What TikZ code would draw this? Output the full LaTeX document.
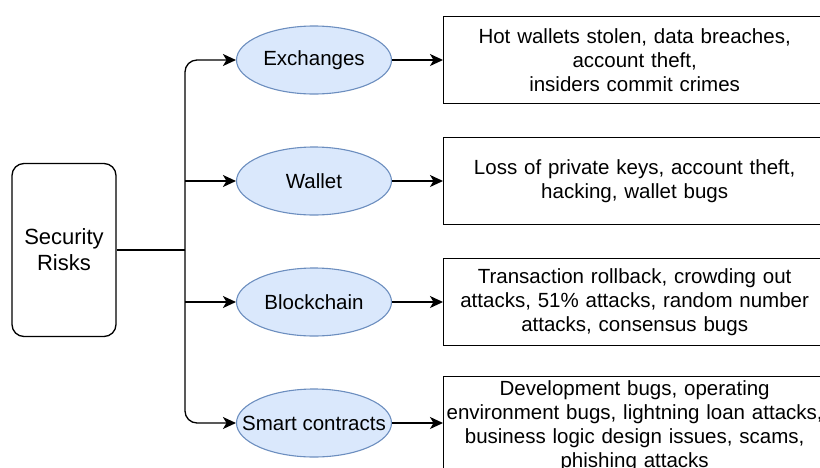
\documentclass[tikz,border=0pt]{standalone}
\usepackage{fontspec}
\setmainfont{Liberation Sans}
\usetikzlibrary{shapes.geometric, arrows.meta, positioning, calc}
\definecolor{areafill}{HTML}{DAE8FC}
\definecolor{areadraw}{HTML}{6C8EBF}

\begin{document}
\begin{tikzpicture}[x=1pt, y=-1pt,
  every node/.style={font=\fontsize{20.5}{24}\selectfont},
  riskbox/.style={draw, line width=1.3pt, rounded corners=12pt, minimum width=104pt, minimum height=173pt, align=center, font=\fontsize{22}{26}\selectfont},
  area/.style={ellipse, draw=areadraw, fill=areafill, line width=1.1pt, minimum width=155pt, minimum height=68pt, inner sep=0pt},
  detail/.style={draw, line width=1.3pt, text width=382pt, align=center, minimum height=87pt, inner xsep=0pt, inner ysep=4pt},
  link/.style={line width=1.3pt},
  arr/.style={link, -{Stealth[length=13pt, width=12pt, inset=3.5pt]}}
]
  \useasboundingbox (0,0) rectangle (820,467);
  \clip (0,0) rectangle (820,467);

  \node[riskbox] (risks) at (64,250) {Security\\Risks};

  \node[area] (exch) at (314,60) {\makebox[0pt]{Exchanges}};
  \node[area] (wallet) at (314,181) {\makebox[0pt]{Wallet}};
  \node[area] (chain) at (314,302) {\makebox[0pt]{Blockchain}};
  \node[area] (smart) at (314,423) {\makebox[0pt]{Smart contracts}};

  \node[detail, anchor=west] (exchtxt) at (443,60) {Hot wallets stolen, data breaches,\\account theft,\\insiders commit crimes};
  \node[detail, anchor=west] (wallettxt) at (443,181) {Loss of private keys, account theft,\\hacking, wallet bugs};
  \node[detail, anchor=west] (chaintxt) at (443,302) {Transaction rollback, crowding out\\attacks, 51\% attacks, random number\\attacks, consensus bugs};
  \node[detail, anchor=north west] (smarttxt) at (443,376) {Development bugs, operating\\environment bugs, lightning loan attacks,\\business logic design issues, scams,\\phishing attacks};

  % trunk
  \coordinate (hub) at (185,250);
  \draw[link] (risks.east) -- (hub);
  \draw[arr, rounded corners=12pt] (hub) |- (exch.west);
  \draw[arr, rounded corners=12pt] (hub) |- (smart.west);
  \draw[arr] (hub |- wallet.west) -- (wallet.west);
  \draw[arr] (hub |- chain.west) -- (chain.west);

  % to the details
  \draw[arr] (exch.east) -- (exchtxt.west |- exch.east);
  \draw[arr] (wallet.east) -- (wallettxt.west |- wallet.east);
  \draw[arr] (chain.east) -- (chaintxt.west |- chain.east);
  \draw[arr] (smart.east) -- (smarttxt.west |- smart.east);
\end{tikzpicture}
\end{document}
